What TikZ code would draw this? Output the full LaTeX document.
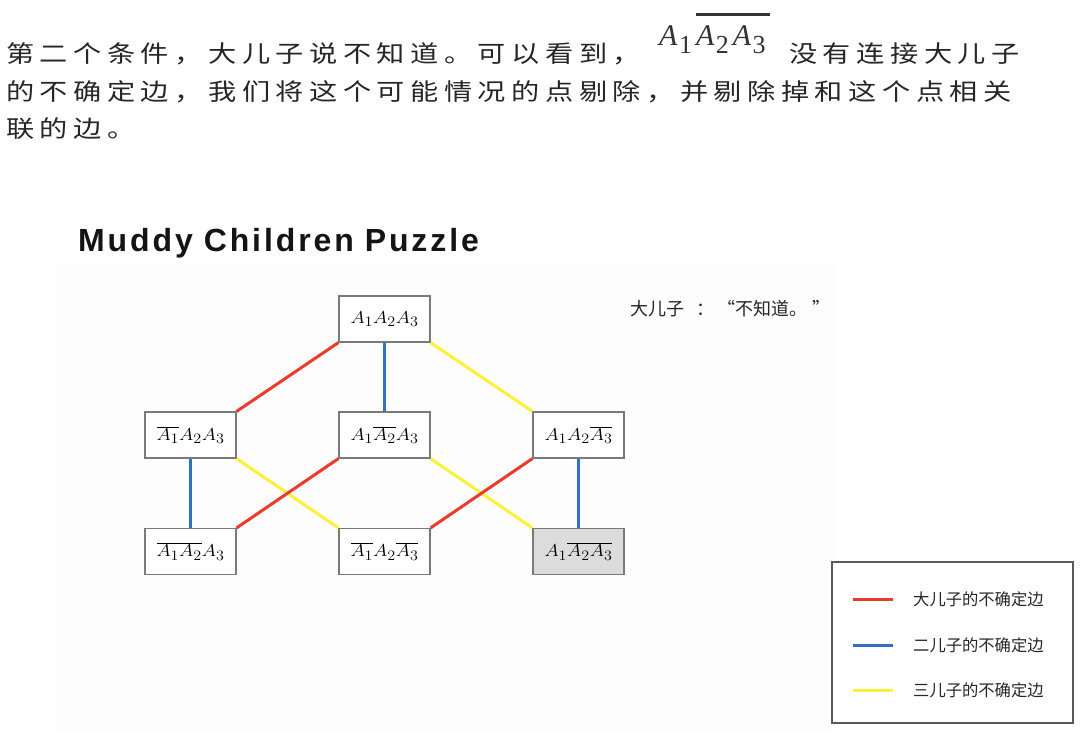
\documentclass[tikz,border=0pt]{standalone}
\usepackage[no-math]{fontspec}
\usepackage{graphicx}
\setmainfont{Liberation Sans}
\newfontfamily\cjkwide[FakeStretch=1.2]{Noto Sans CJK SC}
\newfontfamily\cjk{Noto Sans CJK SC}
\newfontfamily\serifA{Liberation Serif}
\newfontfamily\titlefont{Liberation Sans}
\definecolor{cred}{HTML}{EC3B2C}
\definecolor{cblue}{HTML}{3271C1}
\definecolor{cyellow}{HTML}{FAF23A}
\definecolor{boxgray}{HTML}{7A7A7A}
\definecolor{legendgray}{HTML}{5A5A5A}
\definecolor{txt}{HTML}{262626}
\definecolor{shade}{HTML}{DCDCDC}
\definecolor{slidebg}{HTML}{FDFDFD}
\ExplSyntaxOn
\NewDocumentCommand\cjkspread{m m}{\tl_map_inline:nn {#2} {\makebox[#1][l]{##1}}}
\NewDocumentCommand\lspace{m m}{\tl_map_inline:nn {#2} {##1\kern#1}}
\ExplSyntaxOff
\newcommand\mysub[1]{\kern1.5pt\raisebox{-8.5pt}{\fontsize{26}{26}\selectfont\serifA #1}\kern4pt}
\newcommand\myA{{\fontsize{30}{30}\selectfont\serifA\itshape A}}
\newcommand\myovl[1]{\setbox0\hbox{#1}\rlap{\raisebox{29.7pt}{\rule{\wd0}{2.7pt}}}\box0}
\newcommand\lbl[1]{\scalebox{1.12}[1]{$#1$}}
\begin{document}
\begin{tikzpicture}[x=1pt,y=-1pt,
  state/.style={draw=boxgray, line width=1.2pt, minimum width=91pt, minimum height=46pt, inner sep=0pt, fill=white, font=\fontsize{19}{19}\selectfont},
  redge/.style={draw=cred, line width=3pt},
  bedge/.style={draw=cblue, line width=3pt},
  yedge/.style={draw=cyellow, line width=3pt},
  para/.style={anchor=base west, inner sep=0pt, text=txt, font=\cjkwide\fontsize{23.5}{23.5}\selectfont},
  legtext/.style={anchor=west, inner sep=0pt, text=txt, font=\cjk\fontsize{16.3}{16.3}\selectfont}]
\useasboundingbox (0,0) rectangle (1080,738);
\fill[white] (0,0) rectangle (1080,738);
\fill[slidebg] (55,265) rectangle (835,731);

% paragraph
\node[para] (p1a) at (6,63) {\cjkspread{33.7pt}{第二个条件，大儿子说不知道。可以看到，}};
\node[anchor=base west, inner sep=0pt, text=black!80] (formula) at (659,45.5)
  {\myA\mysub{1}\myovl{\myA\mysub{2}\myA\mysub{3}}};
\node[para] (p1b) at (789,63) {\cjkspread{33.7pt}{没有连接大儿子}};
\node[para] (p2) at (6,100.5) {\cjkspread{33.7pt}{的不确定边，我们将这个可能情况的点剔除，并剔除掉和这个点相关}};
\node[para] (p3) at (6,137.5) {\cjkspread{33.7pt}{联的边。}};

% title
\node[anchor=base west, inner sep=0pt, font=\titlefont\bfseries\fontsize{32}{32}\selectfont, text=black!92] (title) at (78,252)
  {\lspace{2.9pt}{Muddy}\hspace{8pt}\lspace{2.9pt}{Children}\hspace{8pt}\lspace{2.9pt}{Puzzle}};

% speech label
\node[anchor=base west, inner sep=0pt, text=black!85, font=\cjk\fontsize{18}{18}\selectfont] (speech) at (630,316)
  {\makebox[66pt][l]{大儿子}\makebox[22pt][l]{：}\kern-1pt“不知道。\kern5pt”};

% states
\node[state] (T)  at (384.5,319) {\lbl{A_1A_2A_3}};
\node[state] (L)  at (190.5,435) {\lbl{\overline{A_1}A_2A_3}};
\node[state] (M)  at (384.5,435) {\lbl{A_1\overline{A_2}A_3}};
\node[state] (R)  at (578.5,435) {\lbl{A_1A_2\overline{A_3}}};
\node[state] (BL) at (190.5,551.5) {\lbl{\overline{A_1A_2}A_3}};
\node[state] (BM) at (384.5,551.5) {\lbl{\overline{A_1}A_2\overline{A_3}}};
\node[state, fill=shade] (BR) at (578.5,551.5) {\lbl{A_1\overline{A_2A_3}}};

% edges
\draw[redge] (T.south west) -- (L.north east);
\draw[bedge] (T.south) -- (M.north);
\draw[yedge] (T.south east) -- (R.north west);
\draw[bedge] (L.south) -- (BL.north);
\draw[yedge] (L.south east) -- (BM.north west);
\draw[redge] (M.south west) -- (BL.north east);
\draw[yedge] (M.south east) -- (BR.north west);
\draw[redge] (R.south west) -- (BM.north east);
\draw[bedge] (R.south) -- (BR.north);

% legend
\node[draw=legendgray, line width=1.3pt, minimum width=241pt, minimum height=161pt, inner sep=0pt] (legend) at (952.5,642.5) {};
\coordinate (r1) at (853,599); \coordinate (r2) at (893,599);
\coordinate (b1) at (853,645); \coordinate (b2) at (893,645);
\coordinate (y1) at (853,690); \coordinate (y2) at (893,690);
\draw[redge] (r1) -- (r2);
\draw[bedge] (b1) -- (b2);
\draw[yedge] (y1) -- (y2);
\node[legtext] (lt1) at (913,599) {大儿子的不确定边};
\node[legtext] (lt2) at (913,645) {二儿子的不确定边};
\node[legtext] (lt3) at (913,690) {三儿子的不确定边};
\end{tikzpicture}
\end{document}
